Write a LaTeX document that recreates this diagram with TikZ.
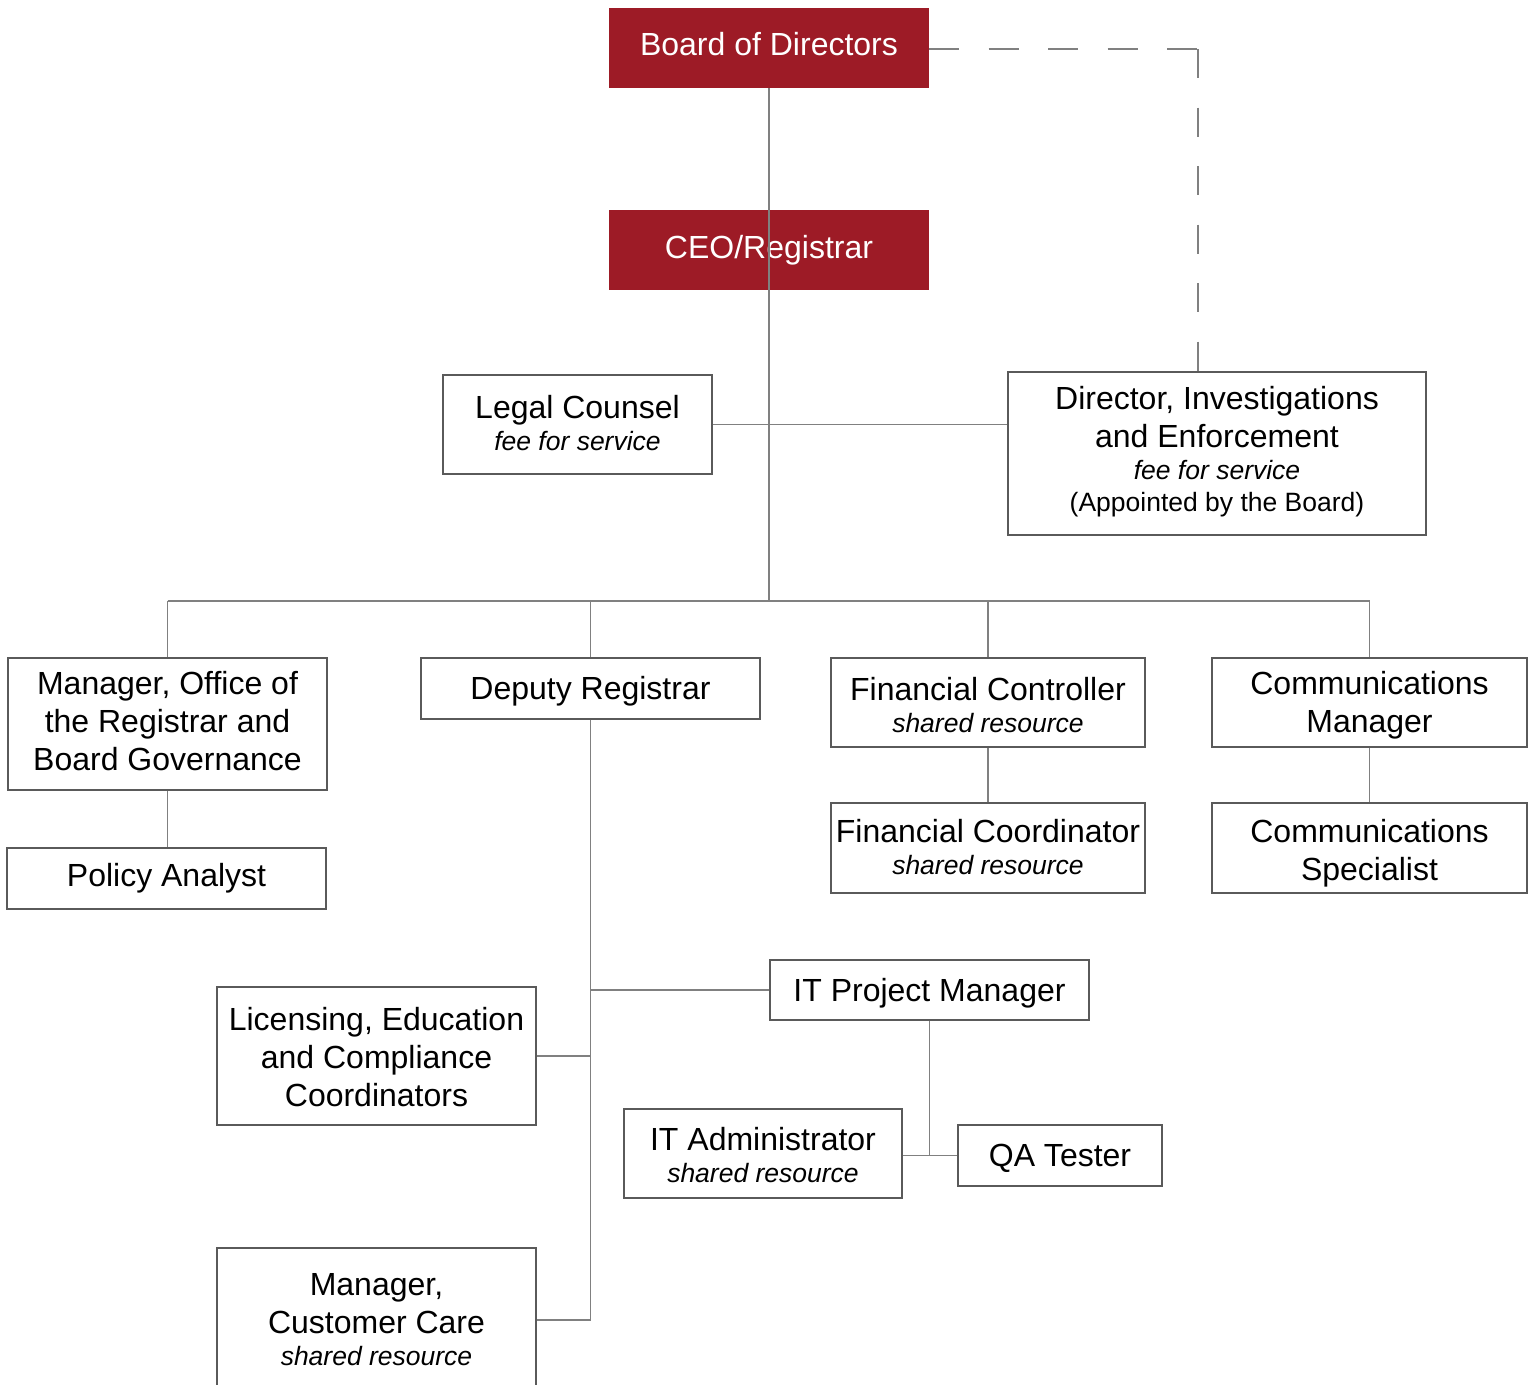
\documentclass[tikz,border=0pt]{standalone}
\usepackage{fontspec}
\setmainfont{Liberation Sans}
\definecolor{boardred}{HTML}{9D1B26}
\definecolor{linegray}{HTML}{808080}
\definecolor{boxgray}{HTML}{5A5A5A}
\newcommand{\mainsz}{\fontsize{32}{38}\selectfont}
\newcommand{\subsz}{\fontsize{26.5}{33}\selectfont\itshape}
\begin{document}
\begin{tikzpicture}[x=1pt,y=-1pt,
  box/.style={draw=boxgray, line width=1.3pt, fill=white, inner sep=0pt},
  redbox/.style={fill=boardred, inner sep=0pt},
  txt/.style={align=center, font=\mainsz, inner sep=0pt, text=black},
  wtxt/.style={txt, text=white},
  link/.style={draw=linegray, line width=1.5pt},
  hdash/.style={link, dash pattern=on 30pt off 29.5pt},
  vdash/.style={link, dash pattern=on 29pt off 29.5pt}]
\clip (0,0) rectangle (1531,1384);
\fill[white] (0,0) rectangle (1531,1384);

% boxes
\node[redbox, minimum width=320pt, minimum height=80pt] (board) at (769,48) {};
\node[redbox, minimum width=320pt, minimum height=80pt] (ceo) at (769,250) {};
\node[box, minimum width=269pt, minimum height=99pt] (legal) at (577.5,424.5) {};
\node[box, minimum width=418pt, minimum height=163pt] (director) at (1217,453.5) {};
\node[box, minimum width=319pt, minimum height=132pt] (mgroffice) at (167.5,724) {};
\node[box, minimum width=339pt, minimum height=61pt] (deputy) at (590.5,688.5) {};
\node[box, minimum width=314pt, minimum height=89pt] (fc) at (988,702.5) {};
\node[box, minimum width=315pt, minimum height=89pt] (cm) at (1369.5,702.5) {};
\node[box, minimum width=319pt, minimum height=61pt] (policy) at (166.5,878.5) {};
\node[box, minimum width=314pt, minimum height=90pt] (fcoord) at (988,848) {};
\node[box, minimum width=315pt, minimum height=90pt] (cs) at (1369.5,848) {};
\node[box, minimum width=319pt, minimum height=60pt] (itpm) at (929.5,990) {};
\node[box, minimum width=319pt, minimum height=138pt] (lic) at (376.5,1056) {};
\node[box, minimum width=278pt, minimum height=89pt] (itadmin) at (763,1153.5) {};
\node[box, minimum width=204pt, minimum height=61pt] (qa) at (1060,1155.5) {};
\node[box, minimum width=319pt, minimum height=144pt] (cc) at (376.5,1320) {};

% texts
\node[wtxt] (board-t) at (769,44) {Board of Directors};
\node[wtxt] (ceo-t) at (769,250) {CEO/Registrar};
\node[txt] (legal-t) at (577.5,423.5) {Legal Counsel\\[-6pt]{\subsz fee for service}};
\node[txt] (director-t) at (1217,451.5) {Director, Investigations\\and Enforcement\\[-6pt]{\subsz fee for service}\\[-6pt]{\fontsize{26.5}{33}\selectfont (Appointed by the Board)}};
\node[txt] (mgroffice-t) at (167.5,721) {Manager, Office of\\the Registrar and\\Board Governance};
\node[txt] (deputy-t) at (590.5,691.5) {Deputy Registrar};
\node[txt] (fc-t) at (988,705.5) {Financial Controller\\[-6pt]{\subsz shared resource}};
\node[txt] (cm-t) at (1369.5,705.5) {Communications\\Manager};
\node[txt] (policy-t) at (166.5,878.5) {Policy Analyst};
\node[txt] (fcoord-t) at (988,847) {Financial Coordinator\\[-6pt]{\subsz shared resource}};
\node[txt] (cs-t) at (1369.5,853) {Communications\\Specialist};
\node[txt] (itpm-t) at (929.5,993) {IT Project Manager};
\node[txt] (lic-t) at (376.5,1057.5) {Licensing, Education\\and Compliance\\Coordinators};
\node[txt] (itadmin-t) at (763,1155.5) {IT Administrator\\[-6pt]{\subsz shared resource}};
\node[txt] (qa-t) at (1060,1158.5) {QA Tester};
\node[txt] (cc-t) at (376.5,1320) {Manager,\\Customer Care\\[-6pt]{\subsz shared resource}};

\coordinate (busC) at (769,601);
\coordinate (dcorner) at (1198,49);

% connectors
\draw[link] (board.south) -- (busC);
\draw[link] (legal.east) -- (legal.east -| director.west);
\draw[hdash] (board.east |- dcorner) -- (dcorner);
\draw[vdash] (dcorner) -- (dcorner |- director.north);
\draw[link] (mgroffice.north |- busC) -- (cm.north |- busC);
\draw[link] (mgroffice.north |- busC) -- (mgroffice.north);
\draw[link] (deputy.north |- busC) -- (deputy.north);
\draw[link] (fc.north |- busC) -- (fc.north);
\draw[link] (cm.north |- busC) -- (cm.north);
\draw[link] (mgroffice.south) -- (mgroffice.south |- policy.north);
\draw[link] (fc.south) -- (fcoord.north);
\draw[link] (cm.south) -- (cs.north);
\draw[link] (deputy.south) -- (deputy.south |- cc.east);
\draw[link] (deputy.south |- itpm.west) -- (itpm.west);
\draw[link] (lic.east) -- (lic.east -| deputy.south);
\draw[link] (cc.east) -- (cc.east -| deputy.south);
\draw[link] (itpm.south) -- (itpm.south |- qa.west);
\draw[link] (itadmin.east |- qa.west) -- (qa.west);
\end{tikzpicture}
\end{document}
